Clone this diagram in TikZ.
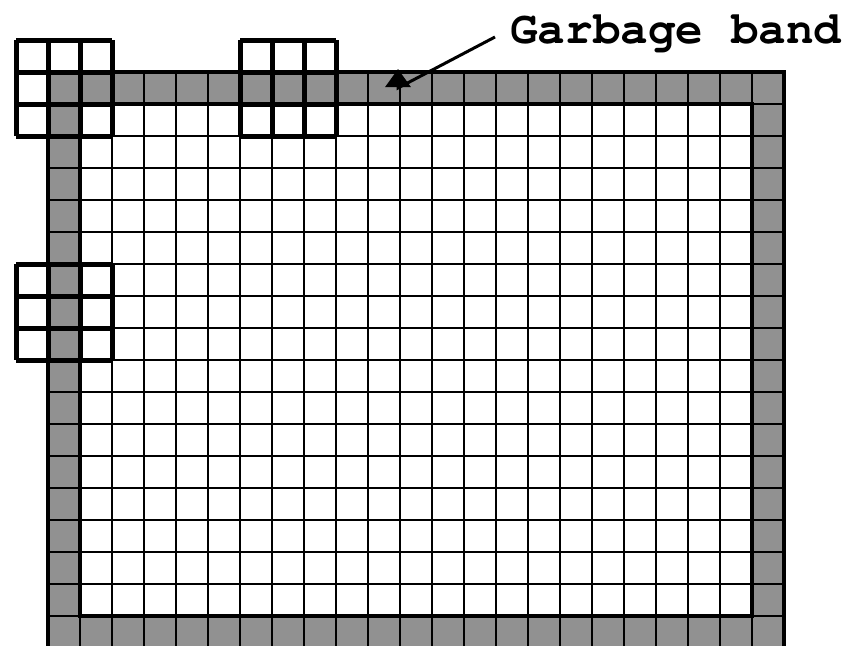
\documentclass[tikz,border=0pt]{standalone}
\usepackage[T1]{fontenc}
\usetikzlibrary{arrows.meta}
\definecolor{bandgray}{RGB}{145,145,145}

\begin{document}
\begin{tikzpicture}[
  x=1pt, y=-1pt,
  cellline/.style={line width=2.5pt, black},
  bandline/.style={line width=3.5pt, black},
  stencil/.style={line width=5pt, black, line cap=butt},
  arrow/.style={-{Triangle[length=18pt, width=25pt]}, line width=3pt, black},
  label/.style={font=\fontfamily{pcr}\fontseries{b}\fontsize{46}{50}\selectfont, inner sep=0pt, anchor=base west}
]
  \useasboundingbox (0,0) rectangle (859,645);
  \clip (0,0) rectangle (859,645);

  % garbage band and interior
  \fill[bandgray] (48,72) rectangle (784,648);
  \fill[white] (80,104) rectangle (752,616);

  % cells
  \foreach \i in {0,...,23}
    \draw[cellline] ({48+32*\i},72) -- ({48+32*\i},648);
  \foreach \j in {0,...,18}
    \draw[cellline] (48,{72+32*\j}) -- (784,{72+32*\j});
  \draw[bandline] (80,104) rectangle (752,616);
  \draw[bandline] (48,72) rectangle (784,648);

  % 3x3 stencils
  \foreach \cx/\cy in {0/0, 7/0, 0/7} {
    \pgfmathsetmacro{\sx}{16+32*\cx}
    \pgfmathsetmacro{\sy}{40+32*\cy}
    \foreach \k in {0,...,3}
      \draw[stencil] ({\sx+32*\k},\sy) -- ++(0,96)
                     (\sx,{\sy+32*\k}) -- ++(96,0);
  }

  \node[label] (garbage) at (510,43) {Garbage band};
  \coordinate (tail) at (495,37);
  \coordinate (elbow) at (398,88);
  \coordinate (tip) at (398,69);
  \draw[arrow] (tail) -- (elbow) -- (tip);
\end{tikzpicture}
\end{document}
